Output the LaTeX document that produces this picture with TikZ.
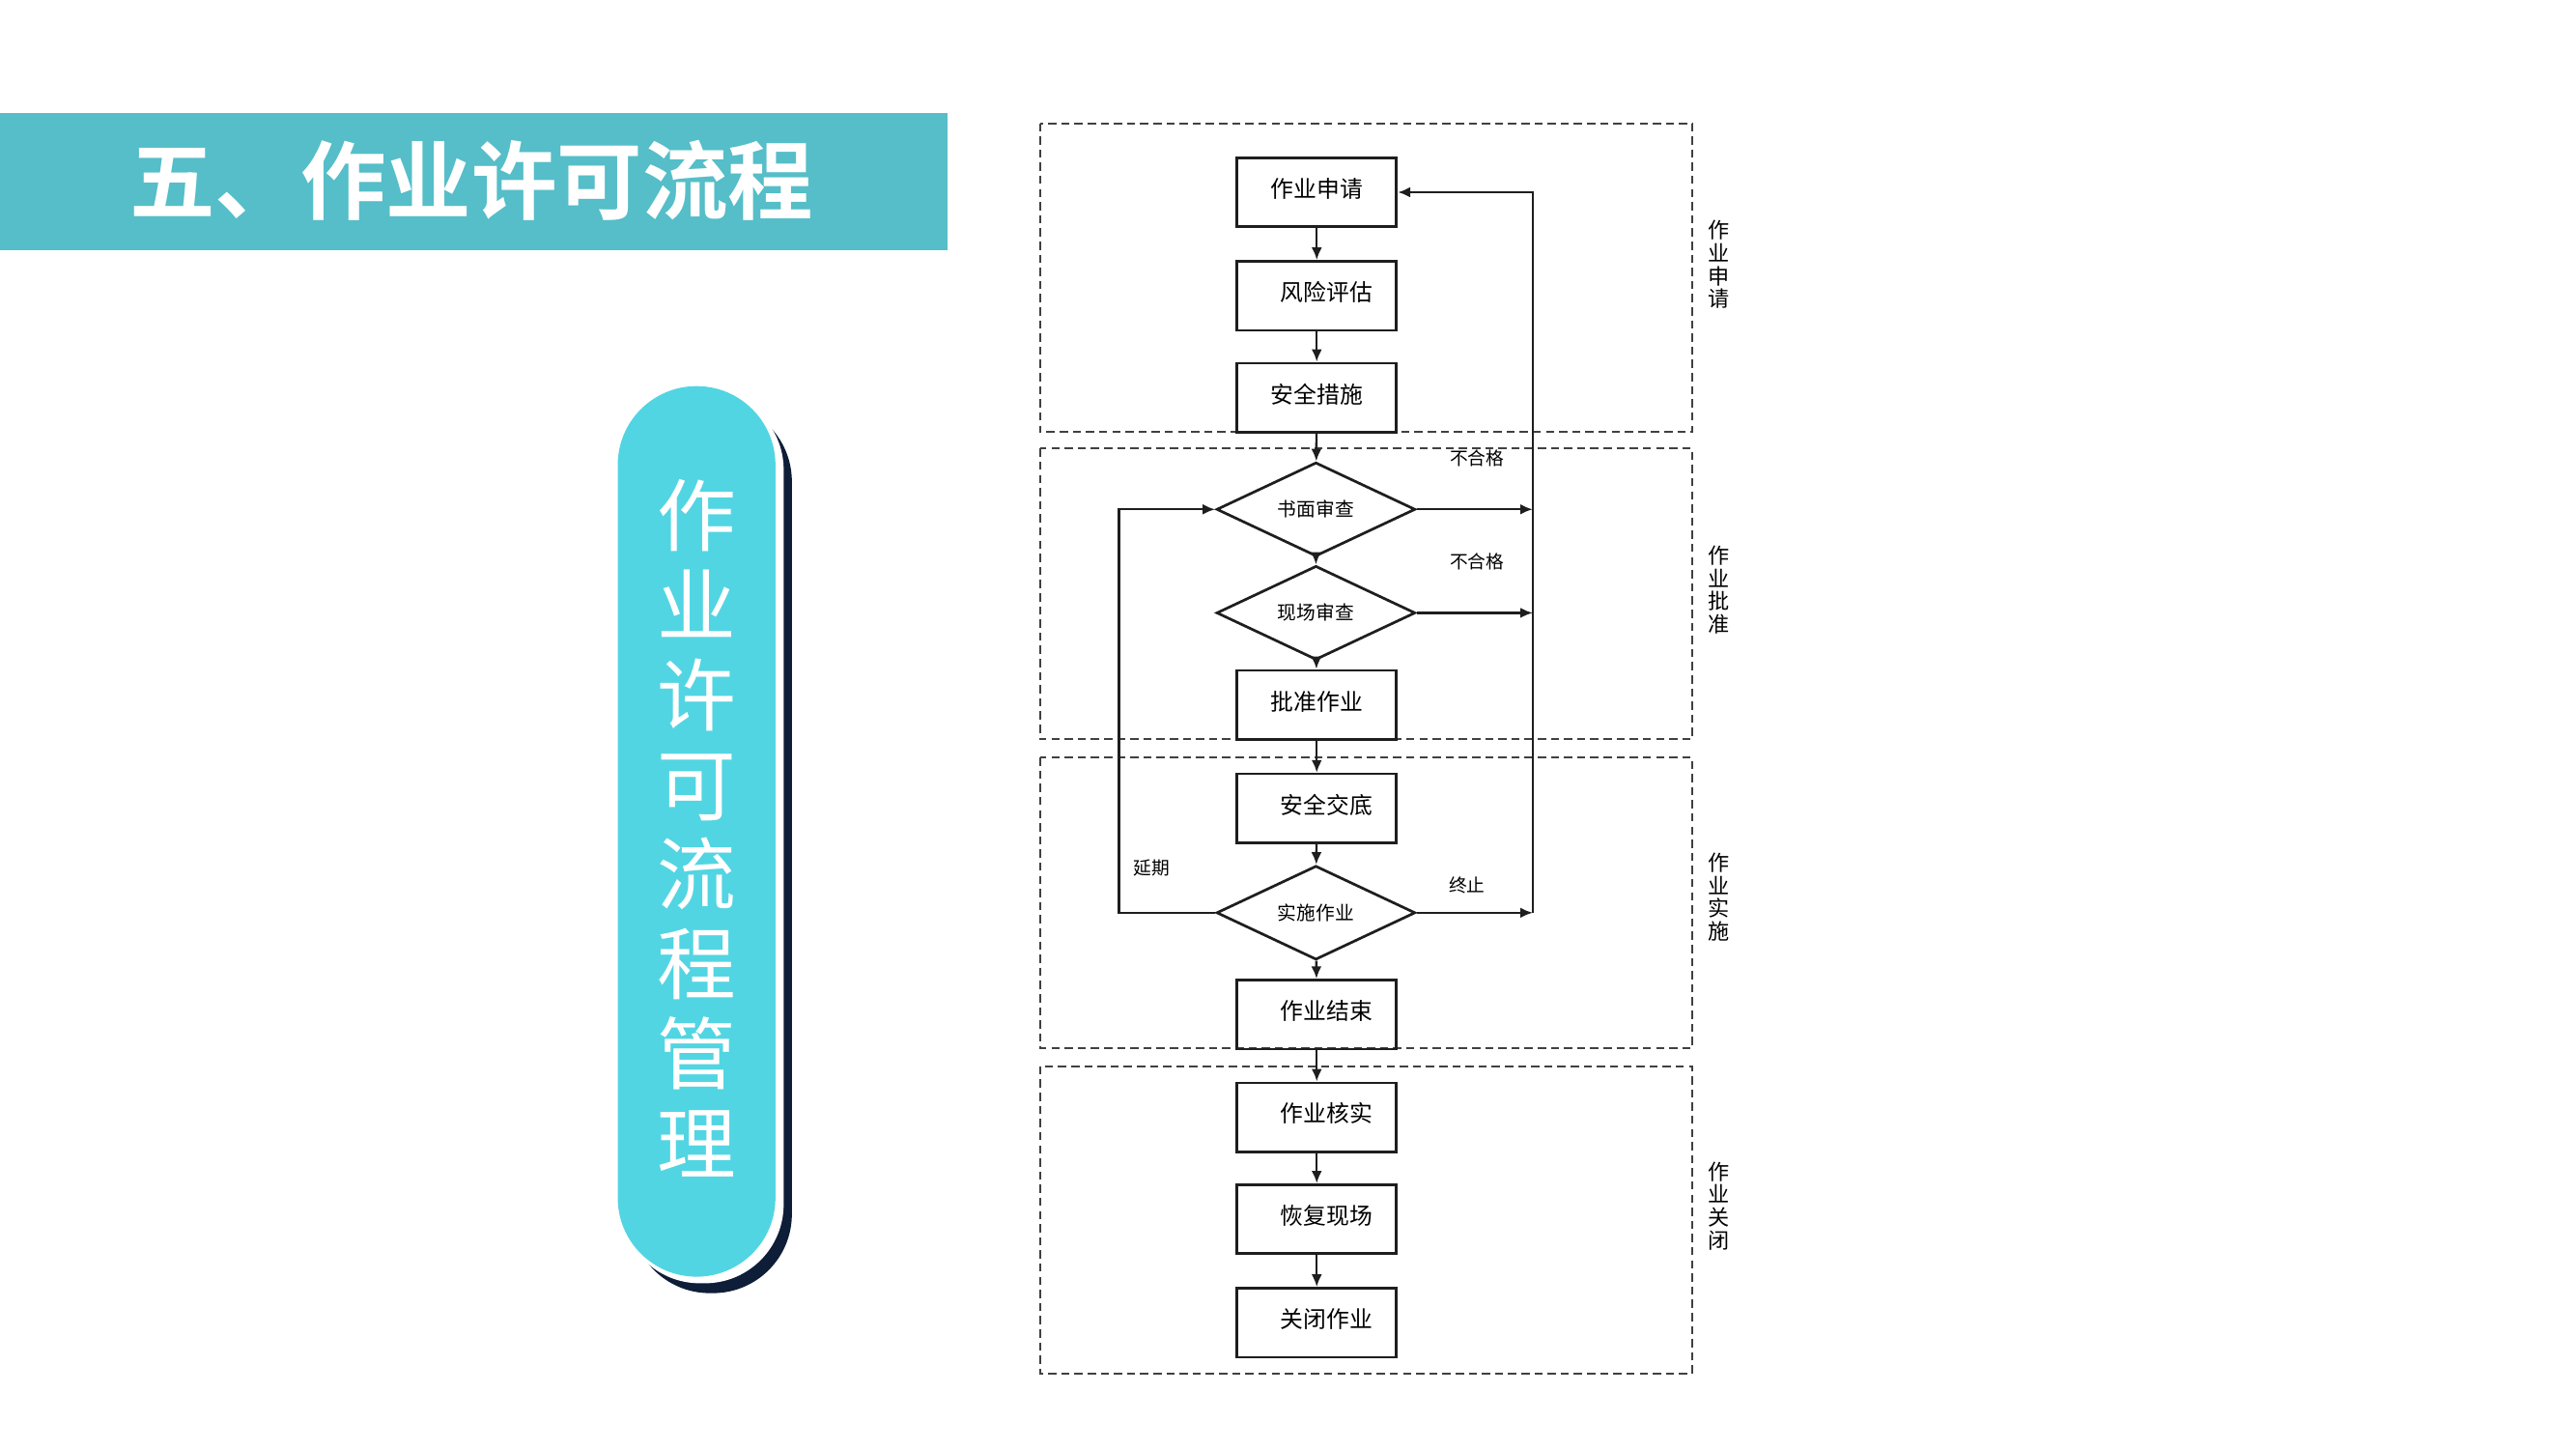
\documentclass[tikz,border=0pt]{standalone}
\usepackage{fontspec}
\setmainfont{Noto Sans CJK SC}[BoldFont={* Bold}]
\usetikzlibrary{shapes.geometric,arrows.meta}
\definecolor{titlec}{RGB}{85,190,200}
\definecolor{pillc}{RGB}{82,213,226}
\definecolor{navyc}{RGB}{14,30,56}
\definecolor{inkc}{RGB}{30,30,30}
\newcommand\bt[1]{\raisebox{2.6pt}{#1}}
\newcommand\btr[1]{\raisebox{2.8pt}{\kern6pt #1}}
\begin{document}
\begin{tikzpicture}[x=0.5pt,y=-0.5pt,
 box/.style={draw=inkc,line width=0.8pt,minimum width=48.5pt,minimum height=21pt,inner sep=0pt,font=\fontsize{7}{8}\selectfont},
 dia/.style={diamond,draw=inkc,line width=0.8pt,minimum width=60.5pt,minimum height=25pt,inner sep=0pt,font=\fontsize{5.8}{7}\selectfont},
 arr/.style={-{Latex[length=3.8pt,width=3.2pt]},line width=0.7pt,draw=inkc},
 lane/.style={draw=black!75,dash pattern=on 2.5pt off 1.5pt,line width=0.6pt},
 lbl/.style={font=\fontsize{5.5}{6}\selectfont,inner sep=0pt},
 side/.style={font=\fontsize{6.5}{7}\selectfont,align=center,inner sep=0pt}
]
\useasboundingbox (0,0) rectangle (1568,881.9);
% title bar
\fill[titlec] (0,69) rectangle (577,152);
\node[text=white,font=\fontsize{26}{28}\selectfont\bfseries,inner sep=0pt] (title) at (287,110) {五、作业许可流程};
% pill
\fill[navyc,rounded corners=24pt] (384,245) rectangle (482,787);
\fill[white,rounded corners=24pt] (378,238) rectangle (477,781);
\fill[pillc,rounded corners=24pt] (376,235) rectangle (472,777);
\node[text=white,font=\fontsize{24}{27.3}\selectfont,align=center,inner sep=0pt] (pilltext) at (424,504) {作\\业\\许\\可\\流\\程\\管\\理};
% lanes
\draw[lane] (633,75) rectangle (1030,263);
\draw[lane] (633,273) rectangle (1030,450);
\draw[lane] (633,461) rectangle (1030,638);
\draw[lane] (633,649) rectangle (1030,836);
% side labels
\node[side] (s1) at (1046,161) {作\\业\\申\\请};
\node[side] (s2) at (1046,359) {作\\业\\批\\准};
\node[side] (s3) at (1046,546) {作\\业\\实\\施};
\node[side] (s4) at (1046,734) {作\\业\\关\\闭};
% nodes
\node[box] (n1) at (801.5,117) {\bt{作业申请}};
\node[box] (n2) at (801.5,180) {\btr{风险评估}};
\node[box] (n3) at (801.5,242) {\bt{安全措施}};
\node[dia] (d1) at (801,310) {书面审查};
\node[dia] (d2) at (801,373) {现场审查};
\node[box] (n4) at (801.5,429) {\bt{批准作业}};
\node[box] (n5) at (801.5,492) {\btr{安全交底}};
\node[dia] (d3) at (801,555.5) {实施作业};
\node[box] (n6) at (801.5,617.5) {\btr{作业结束}};
\node[box] (n7) at (801.5,680) {\btr{作业核实}};
\node[box] (n8) at (801.5,742) {\btr{恢复现场}};
\node[box] (n9) at (801.5,805) {\btr{关闭作业}};
% main flow
\draw[arr] (n1) -- (n2);
\draw[arr] (n2) -- (n3);
\draw[arr] (n3) -- (d1);
\draw[arr] (d1) -- (d2);
\draw[arr] (d2) -- (n4);
\draw[arr] (n4) -- (n5);
\draw[arr] (n5) -- (d3);
\draw[arr] (d3) -- (n6);
\draw[arr] (n6) -- (n7);
\draw[arr] (n7) -- (n8);
\draw[arr] (n8) -- (n9);
% right return line
\coordinate (rt) at (933,117);
\coordinate (r1) at (933,310);
\coordinate (r2) at (933,373);
\coordinate (rb) at (933,555.5);
\draw[arr] (d1.east) -- (r1);
\draw[arr] (d2.east) -- (r2);
\draw[arr] (d3.east) -- (rb);
\draw[arr] (rb) -- (rt) -- (n1.east);
% left loop
\coordinate (lb) at (681,555.5);
\coordinate (lt) at (681,310);
\draw[arr] (d3.west) -- (lb) -- (lt) -- (d1.west);
% labels
\node[lbl] (l1) at (899,279) {不合格};
\node[lbl] (l2) at (899,342) {不合格};
\node[lbl] (l3) at (893,539) {终止};
\node[lbl] (l4) at (701,528) {延期};
\end{tikzpicture}
\end{document}
